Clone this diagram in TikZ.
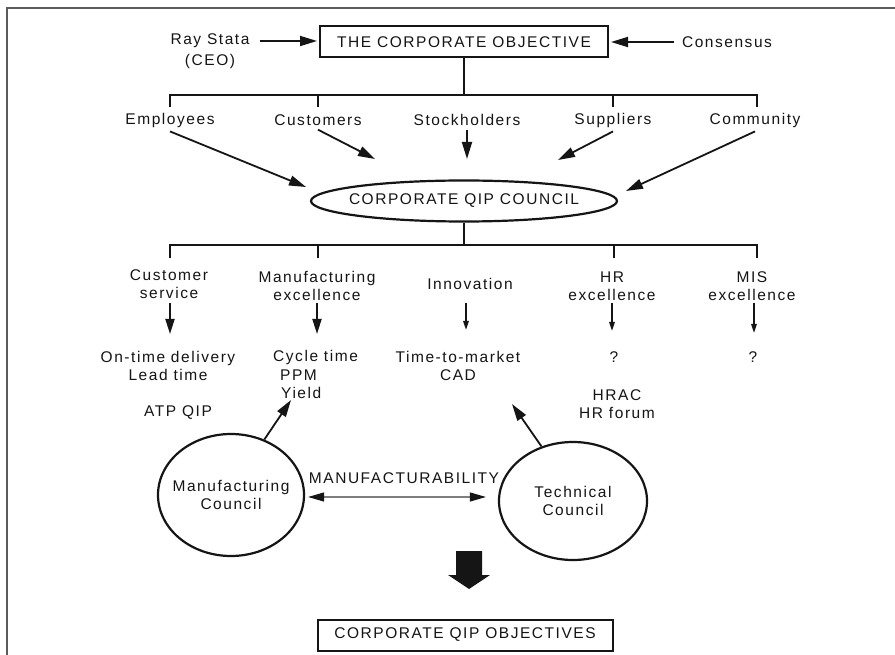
\documentclass[tikz,border=0pt]{standalone}
\usepackage{fontspec}
\setmainfont{Liberation Sans}[LetterSpace=10]
\usetikzlibrary{arrows.meta,shapes.geometric}
\definecolor{ink}{HTML}{151515}
\tikzset{
  txt/.style={font=\fontsize{15.5}{18}\selectfont, text=ink, align=center, inner sep=0pt},
  ln/.style={draw=ink, line width=2pt},
  arr/.style={draw=ink, line width=1.8pt, -{Triangle[length=17pt,width=10pt]}},
  sarr/.style={draw=ink, line width=1.8pt, -{Triangle[length=15pt,width=9pt]}},
  narr/.style={draw=ink, line width=2.8pt, -{Triangle[length=10pt,width=5pt]}},
  boxx/.style={txt, draw=ink, line width=2pt, minimum height=31pt},
  ell/.style={txt, draw=ink, line width=2.2pt, ellipse, inner sep=0pt},
  darr/.style={draw=ink!55, line width=1.2pt, {Triangle[length=16pt,width=9pt,color=ink]}-{Triangle[length=16pt,width=9pt,color=ink]}},
}
\begin{document}
\begin{tikzpicture}[x=1pt,y=-1pt]
\useasboundingbox (0,0) rectangle (895,655);
\fill[white] (0,0) rectangle (895,655);
% frame
\draw[ink!70, line width=2.5pt] (7,655) -- (7,8) -- (895,8);

% top
\node[boxx, minimum width=288pt] (top) at (464,42) {THE CORPORATE OBJECTIVE};
\node[txt] (rs) at (210,41) {Ray Stata};
\node[txt] (ceo) at (210,61) {(CEO)};
\node[txt] (cons) at (727,42) {Consensus};
\draw[arr, shorten <=10pt, shorten >=2pt] (rs.east) -- (rs.east -| top.west);
\draw[arr, shorten <=8pt, shorten >=2pt] (cons.west) -- (cons.west -| top.east);

% stakeholders
\coordinate (b1) at (464,95);
\node[txt] (emp) at (170,120) {Employees};
\node[txt] (cus) at (318,120) {Customers};
\node[txt] (sto) at (467,120) {Stockholders};
\node[txt] (sup) at (613,120) {Suppliers};
\node[txt] (com) at (755,120) {Community};
\draw[ln] (top.south) -- (b1);
\draw[ln] (170,107) -- (170,95) -- (757,95) -- (757,107);
\draw[ln] (cus.north |- b1) -- ++(0,12);
\draw[ln] (sup.north |- b1) -- ++(0,12);

% council
\node[ell, inner xsep=-14pt, minimum width=306pt, minimum height=41pt] (qip) at (464,201) {CORPORATE QIP COUNCIL};
\coordinate (ta) at (306,187);
\coordinate (tb) at (375,159);
\coordinate (tc0) at (467,159);
\coordinate (td) at (558,160);
\coordinate (te) at (626,191);
\draw[arr] ([yshift=-4pt]emp.south) -- (ta);
\draw[arr] ([yshift=-4pt]cus.south) -- (tb);
\draw[arr] ([yshift=-4pt]sto.south) -- (tc0);
\draw[arr] ([yshift=-4pt]sup.south) -- (td);
\draw[arr] ([yshift=-4pt]com.south) -- (te);

% second tier
\coordinate (b2) at (464,245);
\node[txt] (cs) at (169,284) {Customer\\service};
\node[txt] (me) at (317,286) {Manufacturing\\excellence};
\node[txt] (inn) at (470,284) {Innovation};
\node[txt] (hr) at (612,286) {HR\\excellence};
\node[txt] (mis) at (752,286) {MIS\\excellence};
\draw[ln] (qip.south) -- (b2);
\draw[ln] (170,258) -- (170,245) -- (757,245) -- (757,258);
\draw[ln] (318,245) -- ++(0,13);
\draw[ln] (614,245) -- ++(0,13);

\draw[sarr] (170,303) -- (170,334);
\draw[sarr] (317,303) -- (317,334);
\draw[narr] (466,303) -- (466,331);
\draw[narr] (612,303) -- (612,332);
\draw[narr] (754,303) -- (754,334);

% third tier
\node[txt] (otd) at (168,366) {On-time delivery\\Lead time};
\node[txt, anchor=west] (cyc) at (273,357) {Cycle time};
\node[txt, anchor=west] (ppm) at (280,375) {PPM};
\node[txt, anchor=west] (yld) at (281,393) {Yield};
\node[txt] (ttm) at (458,366) {Time-to-market\\CAD};
\node[txt] (q1) at (614,357) {?};
\node[txt] (q2) at (753,357) {?};
\node[txt] (atp) at (178,413) {ATP QIP};
\node[txt] (hrac) at (617,404) {HRAC\\HR forum};

% councils
\node[ell, inner xsep=-10pt, minimum width=146pt, minimum height=122pt] (mc) at (231,495) {Manufacturing\\Council};
\node[ell, minimum width=148pt, minimum height=118pt] (tcn) at (573,501) {Technical\\Council};
\coordinate (ya) at (291,400);
\coordinate (yb) at (512,404);
\draw[arr] (mc.59) -- (ya);
\draw[arr] (tcn.120) -- (yb);
\node[txt] (mfb) at (404,478) {MANUFACTURABILITY};
\draw[darr, shorten <=3pt, shorten >=12pt] (mc.east |- 0,497) -- (tcn.west |- 0,497);

% big arrow
\fill[ink] (456,551) -- (482,551) -- (482,575) -- (490,575) -- (469,589) -- (448,575) -- (456,575) -- cycle;

% bottom box
\node[boxx, minimum width=295pt] (obj) at (465,635) {CORPORATE QIP OBJECTIVES};
\end{tikzpicture}
\end{document}
